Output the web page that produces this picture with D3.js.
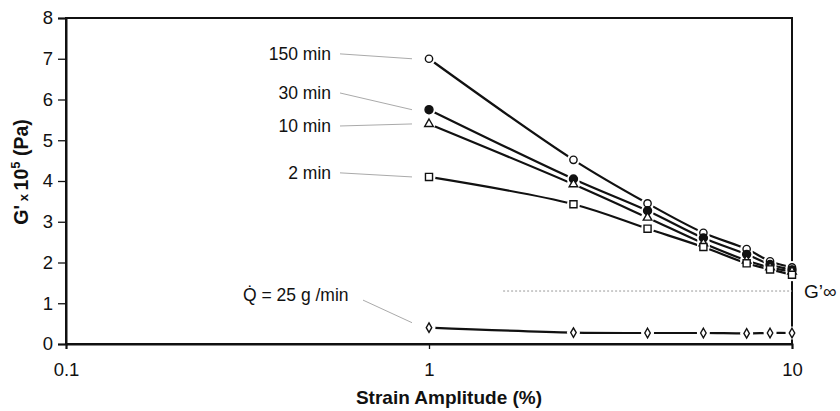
<!DOCTYPE html>
<html>
<head>
<meta charset="utf-8">
<script src="https://cdn.jsdelivr.net/npm/d3@7"></script>
<style>
  body { margin: 0; background: #fff; }
  text { font-family: Arial, "Liberation Sans", sans-serif; fill: #111; }
</style>
</head>
<body>
<div id="chart"></div>
<script>
// strain amplitude (%) and G' x 10^5 (Pa) per series
var strain = [1, 2.5, 4, 5.7, 7.5, 8.7, 10];
var g150 = [7.0, 4.52, 3.45, 2.73, 2.33, 2.03, 1.88];
var g30 = [5.75, 4.05, 3.27, 2.6, 2.2, 1.95, 1.82];
var g10 = [5.4, 3.92, 3.1, 2.47, 2.05, 1.88, 1.78];
var g2 = [4.1, 3.43, 2.83, 2.38, 1.98, 1.83, 1.7];
var gQ = [0.4, 0.28, 0.27, 0.27, 0.26, 0.27, 0.27];
var gInf = 1.3;
var gInfStart = 1.6;

var seriesNames = ["150 min", "30 min", "10 min", "2 min", "Q = 25 g /min"];
var seriesValues = [g150, g30, g10, g2, gQ];
var seriesMarkers = ["openCircle", "filledCircle", "triangle", "square", "diamond"];
// label vertical centre, in data units
var labelCentre = [7.12, 6.16, 5.35, 4.2, 1.2];

var xTicks = [0.1, 1, 10];
var yTicks = [0, 1, 2, 3, 4, 5, 6, 7, 8];

var width = 840, height = 411;
var margin = {left: 66, right: 48, top: 18, bottom: 67};

var svg = d3.select("#chart").append("svg")
    .attr("width", width).attr("height", height);

var xScale = d3.scaleLog().domain([0.1, 10]).range([margin.left, width - margin.right]);
var yScale = d3.scaleLinear().domain([0, 8]).range([height - margin.bottom, margin.top]);

// frame
svg.append("rect")
    .attr("x", xScale(0.1)).attr("y", yScale(8))
    .attr("width", xScale(10) - xScale(0.1))
    .attr("height", yScale(0) - yScale(8))
    .attr("fill", "none").attr("stroke", "#111").attr("stroke-width", 2);

var xAxis = d3.axisBottom(xScale).tickValues(xTicks).tickFormat(d3.format("")).tickSize(5).tickPadding(14);
var yAxis = d3.axisLeft(yScale).tickValues(yTicks).tickSize(8).tickPadding(5);

var gx = svg.append("g").attr("transform", "translate(0," + yScale(0) + ")").call(xAxis);
var gy = svg.append("g").attr("transform", "translate(" + xScale(0.1) + ",0)").call(yAxis);
[gx, gy].forEach(function(g) {
  g.select(".domain").attr("stroke", "#111").attr("stroke-width", 2);
  g.selectAll(".tick line").attr("stroke", "#111").attr("stroke-width", 1.3);
  g.selectAll(".tick text").attr("font-size", 18.5).attr("fill", "#111")
    .attr("font-family", "Arial, 'Liberation Sans', sans-serif");
});

// G'inf dotted line
svg.append("line")
    .attr("x1", xScale(gInfStart)).attr("x2", xScale(10))
    .attr("y1", yScale(gInf)).attr("y2", yScale(gInf))
    .attr("stroke", "#999").attr("stroke-width", 1).attr("stroke-dasharray", "2,2");
svg.append("text")
    .attr("x", xScale(10) + 12).attr("y", yScale(gInf) + 7)
    .attr("font-size", 19).text("G\u2019\u221E");

// curves
var line = d3.line()
    .x(function(d) { return xScale(d[0]); })
    .y(function(d) { return yScale(d[1]); })
    .curve(d3.curveCatmullRom.alpha(0.5));

seriesValues.forEach(function(vals) {
  svg.append("path")
      .datum(d3.zip(strain, vals))
      .attr("d", line)
      .attr("fill", "none").attr("stroke", "#111").attr("stroke-width", 2.2);
});

// white halos leave the small gaps around markers
seriesValues.forEach(function(vals) {
  svg.append("g").selectAll("circle")
      .data(d3.zip(strain, vals)).enter().append("circle")
      .attr("cx", function(d) { return xScale(d[0]); })
      .attr("cy", function(d) { return yScale(d[1]); })
      .attr("r", 6.5).attr("fill", "#fff");
});

var symbolOf = {
  openCircle: d3.symbol(d3.symbolCircle, 42),
  filledCircle: d3.symbol(d3.symbolCircle, 50),
  triangle: d3.symbol(d3.symbolTriangle, 32),
  square: d3.symbol(d3.symbolSquare, 50),
  diamond: d3.symbol(d3.symbolDiamond, 26)
};

seriesValues.forEach(function(vals, i) {
  var kind = seriesMarkers[i];
  svg.append("g").selectAll("path")
      .data(d3.zip(strain, vals)).enter().append("path")
      .attr("transform", function(d) { return "translate(" + xScale(d[0]) + "," + yScale(d[1]) + ")"; })
      .attr("d", symbolOf[kind])
      .attr("fill", kind == "filledCircle" ? "#111" : "#fff")
      .attr("stroke", "#111").attr("stroke-width", 1.4);
});

// series labels with grey leader lines
var labelRight = 331;
seriesValues.forEach(function(vals, i) {
  var cy = yScale(labelCentre[i]);
  var isQ = i == 4;
  var t = svg.append("text")
      .attr("x", isQ ? 243 : labelRight)
      .attr("y", cy + 6)
      .attr("text-anchor", isQ ? "start" : "end")
      .attr("font-size", 17.5);
  if (isQ) {
    t.text("Q\u0307 = 25 g /min");
  } else {
    t.text(seriesNames[i]);
  }
  var x1 = isQ ? 363 : labelRight + 9;
  svg.append("line")
      .attr("x1", x1).attr("y1", isQ ? cy + 5 : cy)
      .attr("x2", xScale(strain[0]) - 17).attr("y2", yScale(vals[0]) + (isQ ? -5 : 0))
      .attr("stroke", "#aaa").attr("stroke-width", 1);
});

// axis titles
svg.append("text")
    .attr("x", 449).attr("y", 404)
    .attr("text-anchor", "middle")
    .attr("font-size", 19).attr("font-weight", "bold")
    .text("Strain Amplitude (%)");

var yt = svg.append("text")
    .attr("transform", "translate(28," + 172 + ") rotate(-90)")
    .attr("text-anchor", "middle")
    .attr("font-size", 19.5).attr("font-weight", "bold");
yt.append("tspan").text("G'");
yt.append("tspan").attr("font-size", 13).text(" x ");
yt.append("tspan").text("10");
yt.append("tspan").attr("font-size", 13).attr("dy", -8).text("5");
yt.append("tspan").attr("dy", 8).text(" (Pa)");
</script>
</body>
</html>
